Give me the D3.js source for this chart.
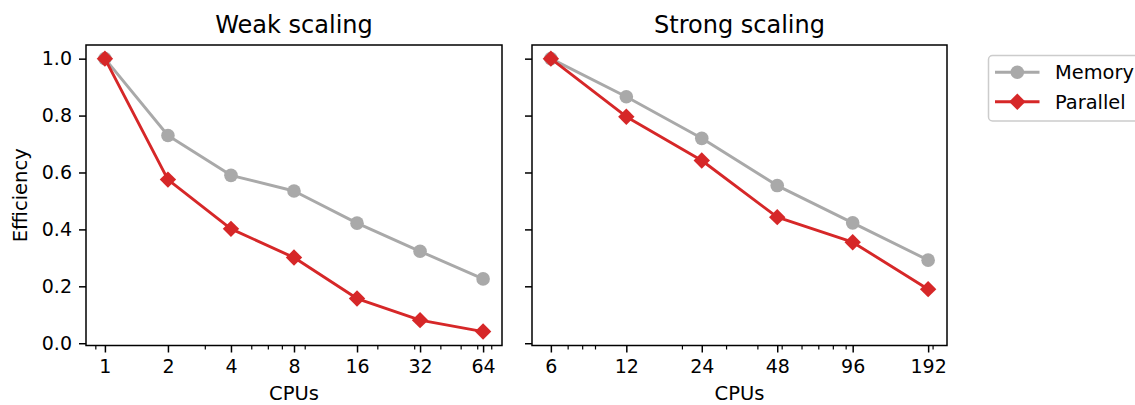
<!DOCTYPE html>
<html><head><meta charset="utf-8">
<script src="https://cdn.jsdelivr.net/npm/d3@7"></script>
<style>
html,body{margin:0;padding:0;background:#fff;}
svg{display:block;font-family:"DejaVu Sans",sans-serif;}
</style></head>
<body>
<svg id="chart" width="1135" height="405"></svg>
<script>
// ---- data ----
const weakCPUs = [1, 2, 4, 8, 16, 32, 64];
const weakMemory = [1.0, 0.73, 0.59, 0.535, 0.422, 0.323, 0.226];
const weakParallel = [1.0, 0.575, 0.402, 0.301, 0.157, 0.081, 0.041];
const strongCPUs = [6, 12, 24, 48, 96, 192];
const strongMemory = [1.0, 0.866, 0.72, 0.554, 0.423, 0.292];
const strongParallel = [1.0, 0.796, 0.642, 0.443, 0.355, 0.19];
const yTicks = [0.0, 0.2, 0.4, 0.6, 0.8, 1.0];
const seriesNames = ["Memory", "Parallel"];
const titles = ["Weak scaling", "Strong scaling"];

const colGray = "#a9a9a9", colRed = "#d62728";
const svg = d3.select("#chart");

const plotTop = 45, plotBottom = 345.5;
const yScale = d3.scaleLinear().domain([-0.008, 1.048]).range([plotBottom, plotTop]);

function minorTicks(dom, majors) {
  const out = [];
  for (let e = -2; e <= 4; e++) {
    for (let s = 2; s <= 9; s++) {
      const v = s * Math.pow(10, e);
      if (v > dom[0] && v < dom[1] && !majors.some(m => Math.abs(m - v) < 1e-9)) out.push(v);
    }
  }
  return out;
}

function diamond(cx, cy, h) {
  return `M${cx},${cy-h}L${cx+h},${cy}L${cx},${cy+h}L${cx-h},${cy}Z`;
}

function panel(x0, x1, cpus, mem, par, title, showYLabels) {
  const lo = cpus[0], hi = cpus[cpus.length - 1];
  const span = Math.log2(hi) - Math.log2(lo);
  const m = span * 0.05;
  const dom = [lo * Math.pow(2, -m), hi * Math.pow(2, m)];
  const x = d3.scaleLog().domain(dom).range([x0, x1]);
  const g = svg.append("g");

  // x axis
  const xa = d3.axisBottom(x).tickValues(cpus).tickFormat(d => d).tickSize(7).tickPadding(7);
  const gx = g.append("g").attr("transform", `translate(0,${plotBottom})`).call(xa);
  gx.select(".domain").remove();
  gx.selectAll(".tick line").attr("stroke", "#000").attr("stroke-width", 1.5);
  gx.selectAll(".tick text").attr("font-size", 19).attr("fill", "#000").attr("font-family", "DejaVu Sans");
  const xm = d3.axisBottom(x).tickValues(minorTicks(dom, cpus)).tickFormat("").tickSize(4);
  const gxm = g.append("g").attr("transform", `translate(0,${plotBottom})`).call(xm);
  gxm.select(".domain").remove();
  gxm.selectAll(".tick line").attr("stroke", "#000").attr("stroke-width", 1.2);

  // y axis
  const ya = d3.axisLeft(yScale).tickValues(yTicks).tickFormat(showYLabels ? d3.format(".1f") : "").tickSize(7).tickPadding(7);
  const gy = g.append("g").attr("transform", `translate(${x0},0)`).call(ya);
  gy.select(".domain").remove();
  gy.selectAll(".tick line").attr("stroke", "#000").attr("stroke-width", 1.5);
  gy.selectAll(".tick text").attr("font-size", 19).attr("fill", "#000").attr("font-family", "DejaVu Sans");

  // lines
  const line = d3.line().x(d => x(d[0])).y(d => yScale(d[1]));
  const memPts = cpus.map((c, i) => [c, mem[i]]);
  const parPts = cpus.map((c, i) => [c, par[i]]);
  g.append("path").datum(memPts).attr("d", line).attr("fill", "none").attr("stroke", colGray).attr("stroke-width", 2.9).attr("stroke-linejoin", "round");
  g.selectAll(".mc").data(memPts).enter().append("circle")
    .attr("cx", d => x(d[0])).attr("cy", d => yScale(d[1])).attr("r", 6.8).attr("fill", colGray);
  g.append("path").datum(parPts).attr("d", line).attr("fill", "none").attr("stroke", colRed).attr("stroke-width", 2.9).attr("stroke-linejoin", "round");
  g.selectAll(".pd").data(parPts).enter().append("path")
    .attr("d", d => diamond(x(d[0]), yScale(d[1]), 8.2))
    .attr("fill", colRed);

  // frame
  g.append("rect").attr("x", x0).attr("y", plotTop).attr("width", x1 - x0).attr("height", plotBottom - plotTop)
    .attr("fill", "none").attr("stroke", "#000").attr("stroke-width", 1.5);

  // title
  g.append("text").attr("x", (x0 + x1) / 2).attr("y", 33.3).attr("text-anchor", "middle")
    .attr("font-size", 24).attr("fill", "#000").text(title);
  // x label
  g.append("text").attr("x", (x0 + x1) / 2).attr("y", 400).attr("text-anchor", "middle")
    .attr("font-size", 19.5).attr("fill", "#000").text("CPUs");
}

panel(86, 502, weakCPUs, weakMemory, weakParallel, titles[0], true);
panel(532, 947, strongCPUs, strongMemory, strongParallel, titles[1], false);

// y label
svg.append("text").attr("transform", `translate(26.5,${(plotTop + plotBottom) / 2}) rotate(-90)`)
  .attr("text-anchor", "middle").attr("font-size", 19.5).attr("fill", "#000").text("Efficiency");

// legend
const lg = svg.append("g");
lg.append("rect").attr("x", 988.5).attr("y", 55.5).attr("width", 170).attr("height", 65.5).attr("rx", 4)
  .attr("fill", "#fff").attr("fill-opacity", 0.8).attr("stroke", "#cccccc").attr("stroke-width", 1.5);
const rows = [72.3, 101.7];
seriesNames.forEach((name, i) => {
  const cy = rows[i], col = i === 0 ? colGray : colRed;
  lg.append("line").attr("x1", 995).attr("x2", 1039.5).attr("y1", cy).attr("y2", cy).attr("stroke", col).attr("stroke-width", 2.9);
  if (i === 0) lg.append("circle").attr("cx", 1017.3).attr("cy", cy).attr("r", 6.8).attr("fill", col);
  else lg.append("path").attr("d", diamond(1017.3, cy, 8.2)).attr("fill", col);
  lg.append("text").attr("x", 1055).attr("y", cy + 7).attr("font-size", 19.4).attr("fill", "#000").text(name);
});
</script>
</body></html>
